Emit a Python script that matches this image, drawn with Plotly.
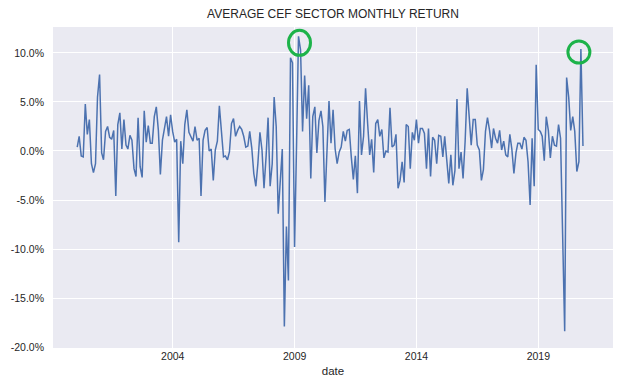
import pandas as pd
import plotly.graph_objects as go

# ---- data ----
start_month = "2000-01-01"
returns_pct = [
    0.4, 1.5, -0.5, -0.6, 4.8, 1.7, 3.2, -1.3, -2.2, -1.3,
    5.5, 7.8, -0.2, -0.9, 2.0, 2.5, 1.4, 1.2, 2.1, -4.6,
    2.7, 3.9, 0.2, 3.2, 0.6, 0.2, 1.6, 1.1, -1.8, -2.6,
    3.4, -1.6, -2.7, 4.1, 0.9, 2.6, 0.8, 0.8, 3.5, 4.5,
    2.1, -2.4, 1.1, 2.3, 3.5, 1.5, 3.7, 2.0, 0.9, 1.2,
    -9.3, 1.0, -1.3, 2.7, 4.2, 1.9, 1.5, 1.0, 2.5, 1.1,
    1.3, -4.6, 1.1, 2.1, 2.4, 0.0, 0.2, -3.0, 0.1, 1.0,
    4.6, 1.8, -0.6, -0.5, -0.9, -0.1, 2.8, 3.3, 1.5, 2.1,
    2.5, 2.2, 1.5, 0.4, 0.5, 2.0, 0.3, -2.3, -3.6, -1.3,
    1.9, 0.1, -3.8, -0.6, 3.4, -3.6, -1.3, 5.5, 2.5, -6.4,
    -2.3, 0.2, -17.9, -7.7, -13.2, 9.5, 9.0, -9.8, 1.0, 11.7,
    10.3, 2.0, 7.7, 3.3, 6.7, -2.8, 3.5, 4.5, -0.2, 3.1,
    4.1, 2.5, -5.2, 0.9, 5.1, 0.8, 4.2, 0.2, -1.3, -0.1,
    0.4, 2.0, 1.0, 2.1, 2.2, -0.6, -2.9, -0.5, -4.3, 5.1,
    -0.4, 1.5, 6.4, 2.8, -0.4, 1.2, -2.2, 2.8, 3.2, 1.5,
    2.2, -0.7, 0.0, -0.1, 4.4, 0.4, 0.6, 1.7, -3.8, -3.0,
    -1.1, -3.2, 2.7, 2.5, -1.8, 1.9, 1.1, 3.2, 0.8, 2.3,
    2.3, 1.8, -1.8, 2.3, -2.6, 1.4, 1.1, -1.3, 1.6, 1.5,
    -0.6, 1.5, -0.9, -3.3, -0.4, -3.5, -2.0, 5.3, -1.8, -0.1,
    -2.8, 1.0, 6.4, 3.0, 0.6, 3.2, 3.2, 0.6, 0.1, -3.0,
    -1.9, 2.0, 3.4, 2.1, 0.3, 2.3, 1.3, 0.8, 2.1, 0.1,
    1.0, -0.4, -0.6, 1.7, 0.2, -2.3, -0.2, 0.8, 0.8, 0.2,
    1.4, 1.1, -1.1, -5.5, 1.3, -3.6, 8.8, 2.2, 2.0, 1.5,
    -1.0, 3.5, 2.1, -0.7, 1.5, 0.6, 0.5, 2.7, 1.3, -8.5,
    -18.4, 7.5, 5.5, 2.1, 3.5, 2.0, -2.1, -1.1, 10.4, 0.5,
]
x_tick_dates = ["2004-01-01", "2009-01-01", "2014-01-01", "2019-01-01"]
x_tick_labels = ["2004", "2009", "2014", "2019"]
y_tick_values = [-20, -15, -10, -5, 0, 5, 10]
y_tick_labels = ["-20.0%", "-15.0%", "-10.0%", "-5.0%", "0.0%", "5.0%", "10.0%"]
title_text = "AVERAGE CEF SECTOR MONTHLY RETURN"
x_title = "date"

dates = pd.date_range(start_month, periods=len(returns_pct), freq="MS") + pd.offsets.MonthEnd(0)

TXT = "#262626"
FONT = "Liberation Sans, Arial, sans-serif"

fig = go.Figure(
    go.Scatter(
        x=dates,
        y=returns_pct,
        mode="lines",
        line=dict(color="#4C72B0", width=1.5),
        showlegend=False,
    )
)

# highlight circles around the two big peaks
peak1 = max(range(len(returns_pct)), key=lambda i: returns_pct[i])
last = len(returns_pct) - 24
peak2 = max(range(last, len(returns_pct)), key=lambda i: returns_pct[i])
for idx, (x0, x1, y0, y1) in [(peak1, (-10, 12, -19, 6)), (peak2, (-13, 9, -14, 8))]:
    fig.add_shape(
        type="circle",
        xref="x", yref="y",
        xsizemode="pixel", ysizemode="pixel",
        xanchor=dates[idx].strftime("%Y-%m-%d"),
        yanchor=returns_pct[idx],
        x0=x0, x1=x1, y0=y0, y1=y1,
        line=dict(color="#1db34a", width=3),
    )

fig.update_layout(
    width=622,
    height=388,
    margin=dict(l=53, r=9, t=27, b=40),
    paper_bgcolor="white",
    plot_bgcolor="#EAEAF2",
    font=dict(family=FONT, color=TXT, size=10.5),
    title=dict(
        text=title_text,
        x=0.5, xanchor="center", xref="paper",
        y=1 - 14 / 388, yanchor="middle", yref="container",
        font=dict(size=12, color=TXT, family=FONT),
    ),
    xaxis=dict(
        type="date",
        range=["1999-02-02", "2022-01-24"],
        tickvals=x_tick_dates,
        ticktext=x_tick_labels,
        showgrid=True, gridcolor="white", gridwidth=1,
        zeroline=False, showline=False, ticks="",
        automargin=False,
        tickfont=dict(size=10.5, color=TXT),
        title=dict(text=x_title, font=dict(size=11.5, color=TXT), standoff=6),
    ),
    yaxis=dict(
        range=[-20.1, 12.65],
        tickvals=y_tick_values,
        ticktext=y_tick_labels,
        showgrid=True, gridcolor="white", gridwidth=1,
        zeroline=False, showline=False, ticks="",
        automargin=False,
        ticklabelstandoff=8,
        tickfont=dict(size=10.5, color=TXT),
    ),
)

fig.write_html(
    "out.html",
    config={"displayModeBar": False},
    post_script="document.body.style.margin='0';",
)
